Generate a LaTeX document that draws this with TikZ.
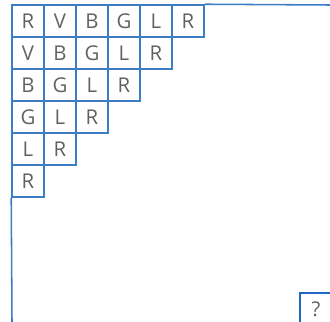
\documentclass[tikz,border=0pt]{standalone}
\usepackage{fontspec}
\setmainfont{Open Sans}
\definecolor{gridblue}{HTML}{3C7DC4}
\definecolor{askblue}{HTML}{1F66C8}
\definecolor{lettergray}{HTML}{626262}
\begin{document}
\begin{tikzpicture}[x=0.8cm, y=-0.8cm,
    cell/.style={draw=gridblue, line width=1.1pt, minimum size=0.8cm, inner sep=0pt,
                 text=lettergray, font=\fontsize{14.5}{16}\selectfont}]
    \useasboundingbox (-0.375,-0.15625) rectangle (9.9375,9.90625);
    % Bậc thang chữ cái
    \foreach \l [count=\k from 0] in {R,V,B,G,L,R} {
        \foreach \i in {0,...,\k} {
            \pgfmathtruncatemacro\j{\k-\i}
            \node[cell] (c\i\j) at (\j+0.5,\i+0.5) {\l};
        }
    }
    % Đường biên kéo dài
    \coordinate (topend) at (9.9375,0);
    \coordinate (leftend) at (0,9.90625);
    \draw[gridblue, line width=1.1pt] (c05.north east) -- (topend);
    \draw[gridblue, line width=1.1pt] (c50.south west) -- (leftend);
    % Ô dấu hỏi
    \node[cell, draw=askblue] (ask) at (9.5,9.5) {?};
\end{tikzpicture}
\end{document}
